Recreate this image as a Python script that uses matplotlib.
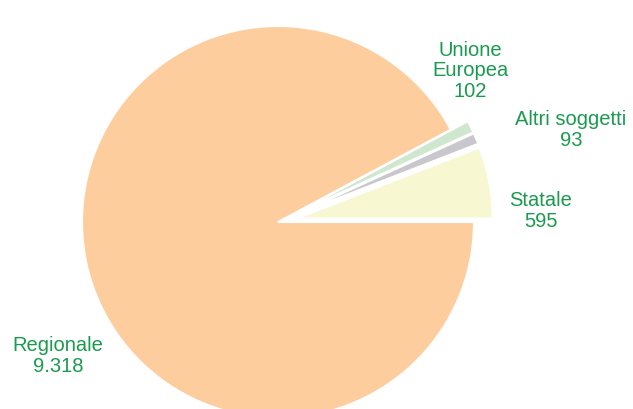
import matplotlib
matplotlib.use("Agg")
import matplotlib.pyplot as plt

# data
labels = ['Statale', 'Altri soggetti', 'Unione\nEuropea', 'Regionale']
values = [595, 93, 102, 9318]
value_labels = ['595', '93', '102', '9.318']
colors = ['#F7F7D1', '#C8C8CC', '#CFE6CF', '#FDCD9E']

plt.rcParams['font.family'] = ['Liberation Sans', 'DejaVu Sans']

fig = plt.figure(figsize=(6.33, 4.09), dpi=100)
ax = fig.add_axes([0, 0, 1, 1])

cx, cy, r = 278, 187, 196
# explode is in data units here (pixels)
explode = [19, 19, 19, 0]
ax.pie(values, colors=colors, explode=explode, startangle=0,
       counterclock=True, center=(cx, cy), radius=r,
       wedgeprops=dict(edgecolor='white', linewidth=1.5))

ax.set_xlim(0, 633)
ax.set_ylim(0, 409)
ax.set_aspect('equal')
ax.axis('off')

green = '#1A9A4E'
label_pos = [(541, 198), (571, 279), (470, 338), (58, 53)]
for lab, v, (x, y) in zip(labels, value_labels, label_pos):
    ax.text(x, y, lab + '\n' + v, ha='center', va='center', color=green,
            fontsize=14.5, linespacing=1.12)

fig.savefig('out.png', dpi=100)
